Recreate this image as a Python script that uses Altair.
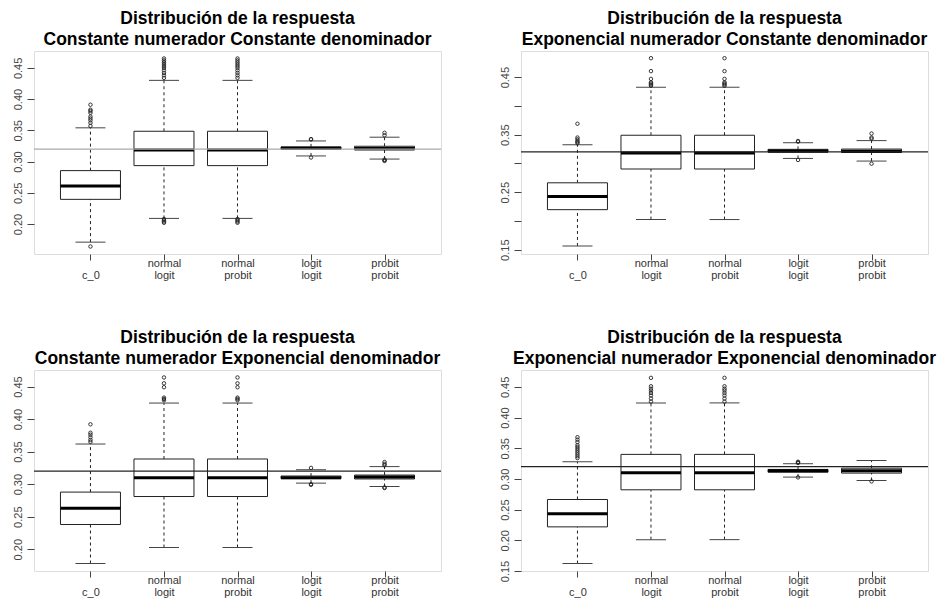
import altair as alt
import pandas as pd

# ---- data ----
positions = [1, 2, 3, 4, 5]
label_top = ["", "normal", "normal", "logit", "probit"]
label_bottom = ["c_0", "logit", "probit", "logit", "probit"]
reference = 0.32

title_line1 = "Distribución de la respuesta"
titles = [
    "Constante numerador Constante denominador",
    "Exponencial numerador Constante denominador",
    "Constante numerador Exponencial denominador",
    "Exponencial numerador Exponencial denominador",
]

# Panel 1: Constante / Constante
p1_lo = [0.171, 0.209, 0.209, 0.309, 0.304]
p1_q1 = [0.2395, 0.2935, 0.2935, 0.3195, 0.3185]
p1_med = [0.261, 0.3185, 0.3185, 0.3215, 0.321]
p1_q3 = [0.2855, 0.3485, 0.3485, 0.3235, 0.3245]
p1_hi = [0.354, 0.430, 0.430, 0.333, 0.339]
p1_out = [
    [0.164, 0.357, 0.362, 0.366, 0.369, 0.372, 0.378, 0.381, 0.383, 0.391],
    [0.202, 0.204, 0.206, 0.208, 0.434, 0.438, 0.442, 0.446, 0.450, 0.453, 0.456, 0.459, 0.462, 0.465],
    [0.202, 0.204, 0.206, 0.208, 0.434, 0.438, 0.442, 0.446, 0.450, 0.453, 0.456, 0.459, 0.462, 0.465],
    [0.3065, 0.3355, 0.336],
    [0.301, 0.302, 0.303, 0.342, 0.346],
]

# Panel 2: Exponencial / Constante
p2_lo = [0.1565, 0.2024, 0.2024, 0.3087, 0.3041]
p2_q1 = [0.2196, 0.2903, 0.2903, 0.3195, 0.319]
p2_med = [0.2425, 0.318, 0.318, 0.3215, 0.321]
p2_q3 = [0.2663, 0.349, 0.349, 0.3245, 0.325]
p2_hi = [0.3325, 0.4325, 0.4325, 0.336, 0.3397]
p2_out = [
    [0.335, 0.337, 0.339, 0.342, 0.345, 0.369],
    [0.435, 0.437, 0.439, 0.441, 0.447, 0.4605, 0.483],
    [0.435, 0.437, 0.439, 0.441, 0.447, 0.4605, 0.483],
    [0.306, 0.338, 0.339],
    [0.2995, 0.343, 0.345, 0.352],
]

# Panel 3: Constante / Exponencial
p3_lo = [0.178, 0.2026, 0.2026, 0.3016, 0.2964]
p3_q1 = [0.238, 0.281, 0.281, 0.3085, 0.308]
p3_med = [0.263, 0.310, 0.310, 0.310, 0.311]
p3_q3 = [0.2878, 0.3387, 0.3387, 0.3125, 0.314]
p3_hi = [0.3617, 0.4247, 0.4247, 0.3222, 0.327]
p3_out = [
    [0.365, 0.368, 0.372, 0.376, 0.379, 0.392],
    [0.429, 0.431, 0.433, 0.449, 0.455, 0.464],
    [0.429, 0.431, 0.433, 0.449, 0.455, 0.464],
    [0.299, 0.300, 0.325],
    [0.294, 0.295, 0.329, 0.331, 0.334],
]

# Panel 4: Exponencial / Exponencial
p4_lo = [0.1621, 0.2011, 0.2011, 0.303, 0.2975]
p4_q1 = [0.2219, 0.2823, 0.2823, 0.311, 0.3095]
p4_med = [0.2431, 0.310, 0.310, 0.3135, 0.3135]
p4_q3 = [0.2665, 0.340, 0.340, 0.3155, 0.3175]
p4_hi = [0.328, 0.4239, 0.4239, 0.3248, 0.330]
p4_out = [
    [0.334, 0.337, 0.340, 0.343, 0.346, 0.349, 0.352, 0.355, 0.360, 0.364, 0.368],
    [0.426, 0.431, 0.436, 0.440, 0.444, 0.447, 0.451, 0.4647],
    [0.426, 0.431, 0.436, 0.440, 0.444, 0.447, 0.451, 0.4647],
    [0.3025, 0.326, 0.327, 0.328],
    [0.296],
]

domains = [[0.152, 0.477], [0.1425, 0.4955], [0.1665, 0.4755], [0.150, 0.4775]]
tick_values = [
    [0.20, 0.25, 0.30, 0.35, 0.40, 0.45],
    [0.15, 0.20, 0.25, 0.30, 0.35, 0.40, 0.45],
    [0.20, 0.25, 0.30, 0.35, 0.40, 0.45],
    [0.15, 0.20, 0.25, 0.30, 0.35, 0.40, 0.45],
]
label_every_other = [False, True, False, False]
ref_colors = ["#aaaaaa", "#222222", "#222222", "#222222"]
heights = [203, 203, 201, 201]

FONT = "Liberation Sans"
DARK = "#222222"

x_label_expr = " : ".join(
    f"datum.value == {p} ? ['{a}', '{b}']" for p, a, b in zip(positions, label_top, label_bottom)
) + " : ''"


def make_panel(i, lo, q1, med, q3, hi, outs):
    df = pd.DataFrame({"pos": positions, "lo": lo, "q1": q1, "med": med, "q3": q3, "hi": hi})
    odf = pd.DataFrame(
        [{"pos": p, "val": v} for p, vals in zip(positions, outs) for v in vals]
    )
    rdf = pd.DataFrame({"ref": [reference]})

    if label_every_other[i]:
        ylab = "round(datum.value*100) % 10 == 5 ? format(datum.value, '.2f') : ''"
    else:
        ylab = "format(datum.value, '.2f')"

    xscale = alt.Scale(domain=[0.3, 5.7], nice=False, zero=False)
    yscale = alt.Scale(domain=domains[i], nice=False, zero=False)
    xaxis = alt.Axis(
        values=positions, labelExpr=x_label_expr, title=None, grid=False, domain=False,
        tickSize=6, tickColor="#444444", labelPadding=-3, labelFontSize=11, labelFont=FONT,
        labelColor="#333333", labelLineHeight=12.5, labelOverlap=False, labelBound=False,
        labelFlush=False,
    )
    yaxis = alt.Axis(
        values=tick_values[i], labelExpr=ylab, title=None, grid=False, domain=False,
        tickSize=7, tickColor="#444444", labelPadding=4, labelFontSize=11, labelFont=FONT,
        labelColor="#444444", labelAngle=-90, labelAlign="center", labelBaseline="bottom",
        labelOverlap=False, labelBound=False, labelFlush=False,
    )

    def X():
        return alt.X("pos:Q", scale=xscale, axis=xaxis)

    def Y(field):
        return alt.Y(f"{field}:Q", scale=yscale, axis=yaxis)

    base = alt.Chart(df)
    whisk_up = base.mark_rule(color=DARK, strokeWidth=1, strokeDash=[3, 3]).encode(
        x=X(), y=Y("q3"), y2="hi")
    whisk_lo = base.mark_rule(color=DARK, strokeWidth=1, strokeDash=[3, 3]).encode(
        x=X(), y=Y("lo"), y2="q1")
    cap_up = base.mark_tick(orient="horizontal", size=30, thickness=1, color="#444444", opacity=1).encode(
        x=X(), y=Y("hi"))
    cap_lo = base.mark_tick(orient="horizontal", size=30, thickness=1, color="#444444", opacity=1).encode(
        x=X(), y=Y("lo"))
    box = base.mark_bar(size=60, fill="white", stroke=DARK, strokeWidth=1).encode(
        x=X(), y=Y("q1"), y2="q3")
    median = base.mark_tick(orient="horizontal", size=60, thickness=3, color="black", opacity=1).encode(
        x=X(), y=Y("med"))
    pts = alt.Chart(odf).mark_point(shape="circle", filled=False, size=12, strokeWidth=0.9,
                                    color=DARK, opacity=1).encode(x=X(), y=Y("val"))
    ref = alt.Chart(rdf).mark_rule(color=ref_colors[i], strokeWidth=1.2).encode(y=Y("ref"))

    return alt.layer(whisk_up, whisk_lo, cap_up, cap_lo, box, median, pts, ref).properties(
        width=407, height=heights[i],
        title=alt.TitleParams(
            text=[title_line1, titles[i]], fontSize=17.5, font=FONT, fontWeight="bold",
            color="black", anchor="middle", offset=3, lineHeight=21,
        ),
    )


panels = [
    make_panel(0, p1_lo, p1_q1, p1_med, p1_q3, p1_hi, p1_out),
    make_panel(1, p2_lo, p2_q1, p2_med, p2_q3, p2_hi, p2_out),
    make_panel(2, p3_lo, p3_q1, p3_med, p3_q3, p3_hi, p3_out),
    make_panel(3, p4_lo, p4_q1, p4_med, p4_q3, p4_hi, p4_out),
]

chart = alt.concat(*panels, columns=2, spacing={"row": 116, "column": 80}, bounds="flush").properties(
    padding={"left": 3, "top": 1, "right": 0, "bottom": 0}
).configure_view(stroke="#444444", strokeWidth=1).configure(background="white")

chart.save("out.html", embed_options={"renderer": "svg", "actions": False})
